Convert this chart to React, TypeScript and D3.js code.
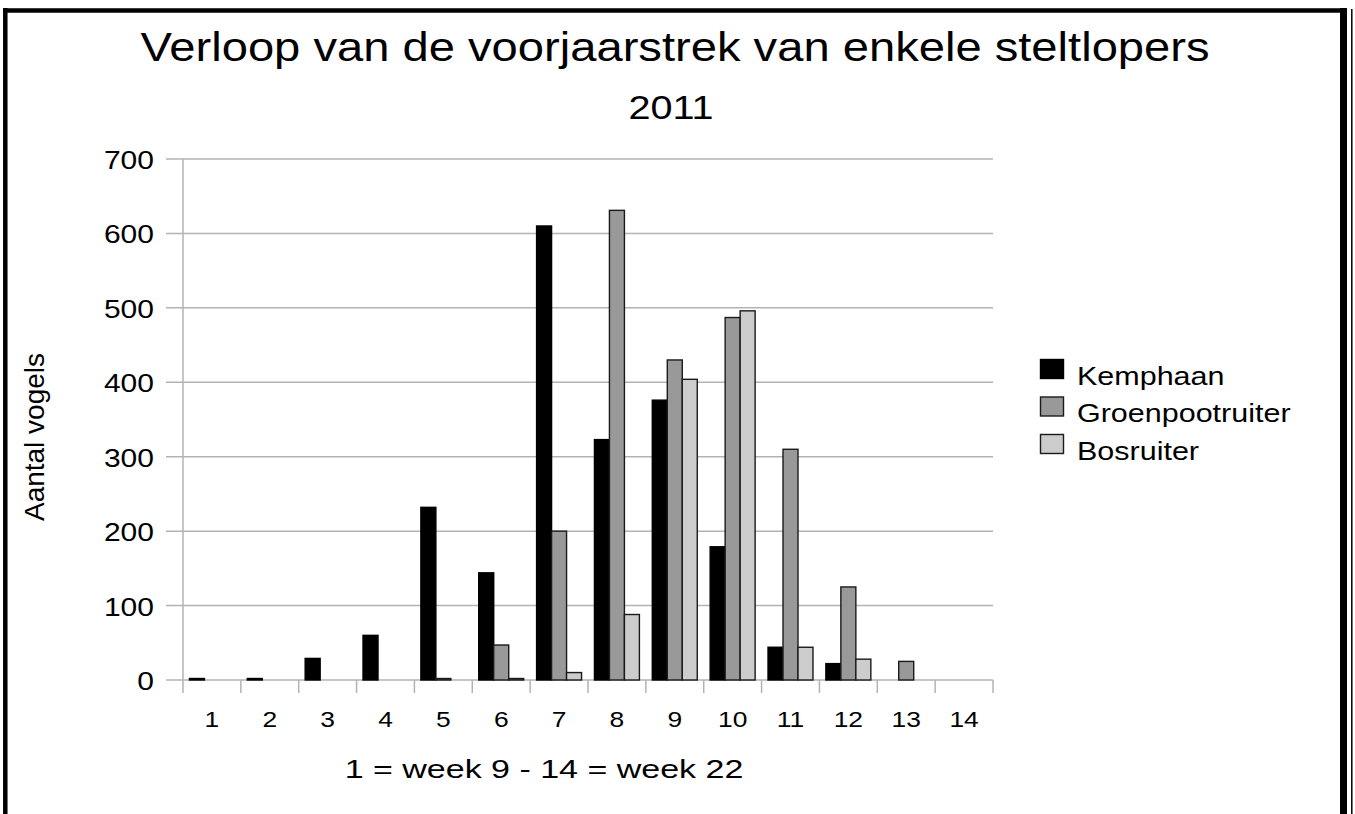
import React from 'react'
import * as d3 from 'd3'

const weeks = ['1', '2', '3', '4', '5', '6', '7', '8', '9', '10', '11', '12', '13', '14']
const seriesNames = ['Kemphaan', 'Groenpootruiter', 'Bosruiter']
const kemphaan = [2, 2, 29, 60, 232, 144, 610, 323, 376, 179, 44, 22, 0, 0]
const groenpootruiter = [0, 0, 0, 0, 2, 47, 200, 631, 430, 487, 310, 125, 25, 0]
const bosruiter = [0, 0, 0, 0, 0, 2, 10, 88, 404, 496, 44, 28, 0, 0]
const yTicks = [0, 100, 200, 300, 400, 500, 600, 700]
const colors = ['#000000', '#999999', '#cccccc']

const W = 1355
const H = 814
const margin = { top: 159, right: 362, bottom: 134, left: 183 }
const FONT = '"Liberation Sans", Arial, sans-serif'

// stretched text, the original picture is wider than its font
const T = ({ x, y, sx = 1.2, size, anchor = 'start', children }: any) => (
  <text
    transform={`translate(${x},${y}) scale(${sx},1)`}
    fontSize={size}
    textAnchor={anchor}
    fontFamily={FONT}
    fill="#000"
  >
    {children}
  </text>
)

export default function App() {
  const values = [kemphaan, groenpootruiter, bosruiter]

  const x0 = d3.scaleBand().domain(weeks).range([margin.left, W - margin.right]).paddingInner(0)
  const x1 = d3.scaleBand().domain(seriesNames).range([0, x0.bandwidth()]).paddingOuter(0.43)
  const y = d3.scaleLinear().domain([0, 700]).range([H - margin.bottom, margin.top])

  const grid = '#b3b3b3'
  const bottom = y(0)

  return (
    <svg width={W} height={H} style={{ position: 'absolute', left: 0, top: 0, background: '#fff' }}>
      <rect width={W} height={H} fill="#fff" />

      {/* frame */}
      <line x1={5.3} x2={5.3} y1={8} y2={H} stroke="#000" strokeWidth={4.5} />
      <line x1={3} x2={1347} y1={10.5} y2={10.5} stroke="#000" strokeWidth={4.5} />
      <line x1={1343.5} x2={1343.5} y1={8} y2={H} stroke="#000" strokeWidth={7} />
      <line x1={1351.8} x2={1351.8} y1={9} y2={H} stroke="#000" strokeWidth={1.5} />

      <T x={675} y={61} size={41} sx={1.15} anchor="middle">Verloop van de voorjaarstrek van enkele steltlopers</T>
      <T x={671} y={119} size={33} anchor="middle">2011</T>

      {/* grid + y axis */}
      {yTicks.map(t => (
        <g key={t}>
          <line x1={margin.left - 17} x2={W - margin.right} y1={y(t)} y2={y(t)} stroke={grid} strokeWidth={1.5} />
          <T x={154} y={y(t) + 10} size={25} anchor="end">{t}</T>
        </g>
      ))}
      <line x1={margin.left} x2={margin.left} y1={y(700)} y2={bottom + 13} stroke={grid} strokeWidth={1.5} />

      {/* x ticks */}
      {weeks.map((w, i) => (
        <g key={w}>
          <line x1={x0(w)! + x0.bandwidth()} x2={x0(w)! + x0.bandwidth()} y1={bottom} y2={bottom + 13} stroke={grid} strokeWidth={1.5} />
          <T x={x0(w)! + x0.bandwidth() / 2} y={727} size={22} anchor="middle">{w}</T>
        </g>
      ))}

      {/* bars */}
      {seriesNames.map((s, si) => (
        <g key={s}>
          {values[si].map((v, i) =>
            v > 0 ? (
              <rect
                key={i}
                x={x0(weeks[i])! + x1(s)!}
                y={y(v)}
                width={x1.bandwidth()}
                height={bottom - y(v)}
                fill={colors[si]}
                stroke={si === 0 ? '#000' : '#1a1a1a'}
                strokeWidth={1.4}
              />
            ) : null
          )}
        </g>
      ))}

      <text
        transform={`translate(44,437) rotate(-90)`}
        fontSize={28}
        textAnchor="middle"
        fontFamily={FONT}
      >
        Aantal vogels
      </text>

      <T x={544} y={778} size={25} sx={1.36} anchor="middle">1 = week 9 - 14 = week 22</T>

      {/* legend */}
      {seriesNames.map((s, i) => (
        <g key={s}>
          <rect x={1040.5} y={359.5 + i * 37.5} width={23} height={19} fill={colors[i]} stroke={i === 0 ? '#000' : '#1a1a1a'} strokeWidth={1.4} />
          <T x={1077} y={384.5 + i * 37.5} size={25} sx={1.22}>{s}</T>
        </g>
      ))}
    </svg>
  )
}
